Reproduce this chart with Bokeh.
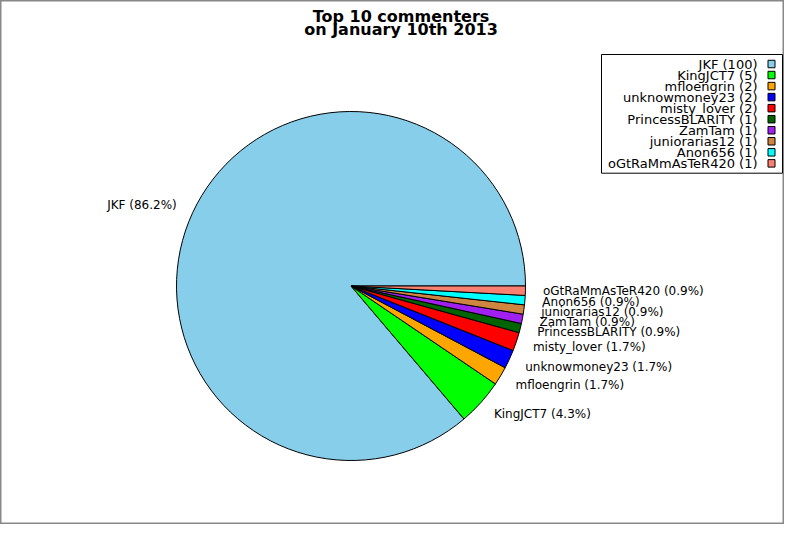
import math
from bokeh.plotting import figure
from bokeh.models import ColumnDataSource, Range1d
from bokeh.core.properties import value
from bokeh.embed import file_html
from bokeh.resources import INLINE

# ---- data ----
names = ["JKF", "KingJCT7", "mfloengrin", "unknowmoney23", "misty_lover",
         "PrincessBLARITY", "ZamTam", "juniorarias12", "Anon656", "oGtRaMmAsTeR420"]
counts = [100, 5, 2, 2, 2, 1, 1, 1, 1, 1]
colors = ["#87CEEB", "#00FF00", "#FFA500", "#0000FF", "#FF0000",
          "#006400", "#A020F0", "#CD853F", "#00FFFF", "#FA8072"]
title_lines = ["Top 10 commenters", "on January 10th 2013"]

FONT = value("DejaVu Sans")
W, H = 784, 524

def up(y_px):
    return H - y_px

p = figure(width=W, height=H, output_backend="svg", toolbar_location=None,
           x_range=Range1d(0, W), y_range=Range1d(0, H),
           x_axis_location=None, y_axis_location=None, min_border=0)
p.grid.visible = False
p.outline_line_color = "#888888"
p.outline_line_width = 2
p.background_fill_color = "white"
p.border_fill_color = "white"

# ---- pie ----
cx, cy, r = 350.5, up(285.5), 174.5
total = float(sum(counts))
starts, ends, mids = [], [], []
acc = 0.0
for c in counts:
    a0 = acc / total * 2 * math.pi
    acc += c
    a1 = acc / total * 2 * math.pi
    starts.append(a0)
    ends.append(a1)
    mids.append((a0 + a1) / 2)

src = ColumnDataSource(dict(start=starts, end=ends, color=colors))
p.wedge(x=cx, y=cy, radius=r, start_angle="start", end_angle="end",
        direction="anticlock", fill_color="color", line_color="black",
        line_width=1, source=src)

lx = [cx + 1.1 * r * math.cos(m) for m in mids]
ly = [cy + 1.1 * r * math.sin(m) for m in mids]
labels = ["%s (%.1f%%)" % (n, c / total * 100) for n, c in zip(names, counts)]
aligns = ["right" if math.cos(m) < 0 else "left" for m in mids]
lsrc = ColumnDataSource(dict(x=lx, y=ly, text=labels, align=aligns))
p.text(x="x", y="y", text="text", text_align="align", text_baseline="middle",
       text_font=FONT, text_font_size="12px", text_color="black", source=lsrc)

# ---- legend ----
box_l, box_r, box_t, box_b = 601, 782, 54, 172.7
p.quad(left=box_l, right=box_r, top=up(box_t), bottom=up(box_b),
       fill_color="white", line_color="black", line_width=1)
row_y = [up(63.5 + i * 11.04) for i in range(len(names))]
leg_text = ["%s (%d)" % (n, c) for n, c in zip(names, counts)]
gsrc = ColumnDataSource(dict(y=row_y, text=leg_text, color=colors))
p.text(x=757, y="y", text="text", text_align="right", text_baseline="middle",
       text_font=FONT, text_font_size="13px", text_color="black", source=gsrc)
p.rect(x=771, y="y", width=7, height=7.5, fill_color="color",
       line_color="black", line_width=1, source=gsrc)

# ---- title ----
tsrc = ColumnDataSource(dict(y=[up(16), up(28.5)], text=title_lines))
p.text(x=400.5, y="y", text="text", text_align="center",
       text_baseline="alphabetic", text_font=FONT, text_font_size="16px",
       text_font_style="bold", text_color="black", source=tsrc)

open("out.html", "w").write(file_html(p, INLINE))
